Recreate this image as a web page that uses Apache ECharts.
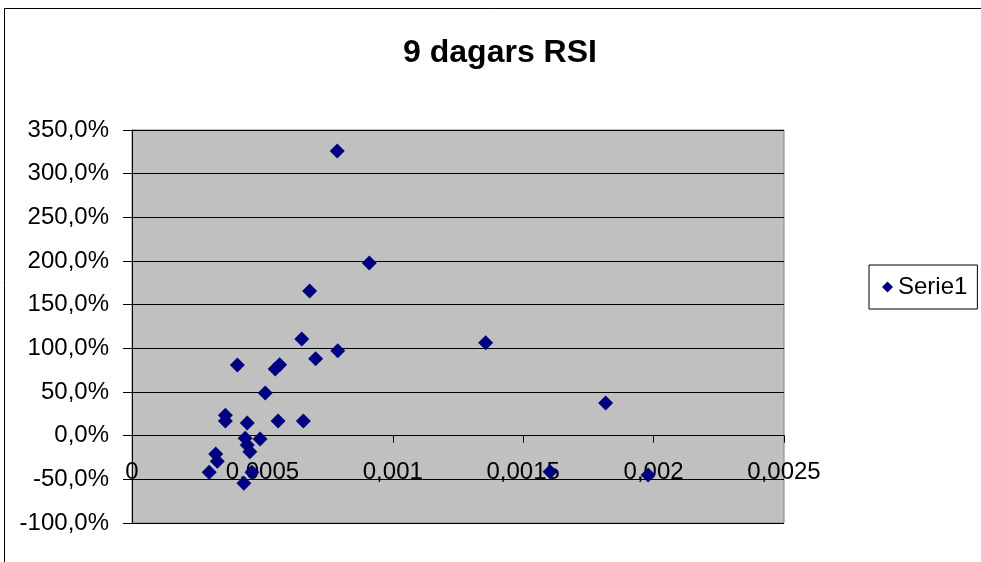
<!DOCTYPE html>
<html>
<head>
<meta charset="utf-8">
<style>
  html, body { margin: 0; padding: 0; background: #fff; }
  #chart { width: 981px; height: 562px; }
</style>
<script src="https://cdn.jsdelivr.net/npm/echarts@6/dist/echarts.min.js"></script>
</head>
<body>
<div id="chart"></div>
<script>
// 9-day RSI scatter: x = indicator value, y = return (fraction, shown as %)
const xValues = [
  0.000787, 0.000910, 0.000681, 0.000651, 0.000789, 0.000704, 0.000404,
  0.000566, 0.000549, 0.000511, 0.000358, 0.000358, 0.000442, 0.000560,
  0.000657, 0.000434, 0.000491, 0.000442, 0.000452, 0.000321, 0.000327,
  0.000296, 0.000460, 0.000429, 0.001356, 0.001816, 0.001603, 0.001979
];
const yValues = [
  3.26, 1.977, 1.656, 1.107, 0.973, 0.881, 0.809,
  0.812, 0.763, 0.488, 0.233, 0.167, 0.144, 0.167,
  0.167, -0.031, -0.039, -0.108, -0.184, -0.211, -0.294,
  -0.42, -0.42, -0.546, 1.064, 0.373, -0.414, -0.451
];
const seriesName = 'Serie1';
const titleText = '9 dagars RSI';

const points = xValues.map((x, i) => [x, yValues[i]]);
const FONT = '"Liberation Sans", Arial, sans-serif';

// Plot rectangle and value range of the y axis
const GRID = { left: 132, top: 130, width: 652, height: 393 };
const Y_MIN = -1, Y_MAX = 3.5;
// The x axis sits on the 0 % line: shift it up from the grid bottom
const xAxisOffset = -GRID.height * (0 - Y_MIN) / (Y_MAX - Y_MIN);

const chart = echarts.init(document.getElementById('chart'), null, { renderer: 'canvas' });
chart.setOption({
  animation: false,
  backgroundColor: '#ffffff',
  textStyle: { fontFamily: FONT, color: '#000' },
  title: {
    text: titleText,
    left: 495,
    top: 32,
    textAlign: 'center',
    textStyle: { fontFamily: FONT, fontSize: 32, fontWeight: 'bold', color: '#000' }
  },
  graphic: [{
    type: 'rect',
    silent: true,
    z: -10,
    shape: { x: 4.5, y: 8.5, width: 1100, height: 700 },
    style: { fill: 'none', stroke: '#000', lineWidth: 1 }
  }],
  legend: {
    data: [{ name: seriesName, icon: 'diamond' }],
    left: 869,
    top: 265,
    orient: 'vertical',
    padding: [10, 10, 10, 13],
    itemWidth: 11,
    itemHeight: 11,
    itemGap: 0,
    borderColor: '#000',
    borderWidth: 1,
    backgroundColor: '#fff',
    textStyle: { fontFamily: FONT, fontSize: 24, color: '#000', padding: [0, 0, 0, 0] }
  },
  grid: {
    left: GRID.left,
    top: GRID.top,
    width: GRID.width,
    height: GRID.height,
    containLabel: false,
    outerBoundsMode: 'none',
    show: true,
    backgroundColor: '#c0c0c0',
    borderColor: '#808080',
    borderWidth: 1
  },
  xAxis: {
    type: 'value',
    position: 'bottom',
    offset: xAxisOffset,
    min: 0,
    max: 0.0025,
    interval: 0.0005,
    splitLine: { show: false },
    axisLine: { show: true, onZero: false, lineStyle: { color: '#000', width: 1 } },
    axisTick: { show: true, inside: false, length: 7, lineStyle: { color: '#000' } },
    axisLabel: {
      margin: 25,
      fontFamily: FONT,
      fontSize: 24,
      color: '#000',
      formatter: v => String(+v.toFixed(6)).replace('.', ',')
    }
  },
  yAxis: {
    type: 'value',
    min: Y_MIN,
    max: Y_MAX,
    interval: 0.5,
    splitLine: { show: true, lineStyle: { color: '#000', width: 1 } },
    axisLine: { show: true, onZero: false, lineStyle: { color: '#000', width: 1 } },
    axisTick: { show: true, inside: false, length: 9, lineStyle: { color: '#000' } },
    axisLabel: {
      margin: 23,
      fontFamily: FONT,
      fontSize: 24,
      color: '#000',
      formatter: v => (v * 100).toFixed(1).replace('.', ',') + '%'
    }
  },
  series: [{
    name: seriesName,
    type: 'scatter',
    symbol: 'diamond',
    symbolSize: 15,
    itemStyle: { color: '#000080', opacity: 1 },
    data: points
  }]
});
</script>
</body>
</html>
